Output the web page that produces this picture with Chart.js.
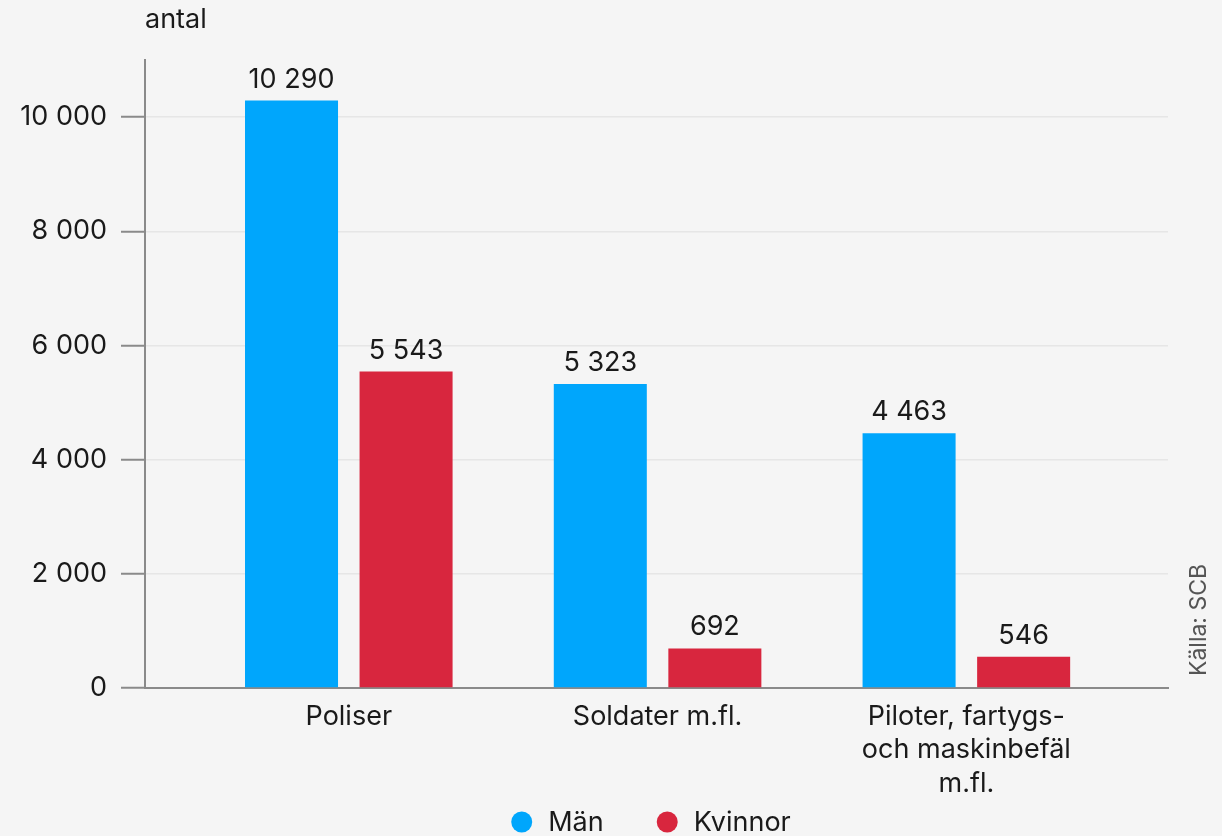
<!DOCTYPE html>
<html lang="sv">
<head>
<meta charset="utf-8">
<script src="https://cdn.jsdelivr.net/npm/chart.js@4"></script>
<style>
  html, body { margin: 0; padding: 0; background: #f5f5f5; }
  #wrap { width: 1222px; height: 836px; }
</style>
</head>
<body>
<div id="wrap"><canvas id="yrkeChart" width="1222" height="836"></canvas></div>
<script>
const categories = [['Poliser'], ['Soldater m.fl.'], ['Piloter, fartygs-', 'och maskinbefäl', 'm.fl.']];
const seriesNames = ['Män', 'Kvinnor'];
const manValues = [10290, 5323, 4463];
const kvinnorValues = [5543, 692, 546];
const yTicks = [0, 2000, 4000, 6000, 8000, 10000];

const textColor = '#1a1a1a';
const fontFam = 'Inter, "Noto Sans", sans-serif';
const fontSize = 27;

function fmt(n) {
  return String(n).replace(/\B(?=(\d{3})+(?!\d))/g, ' ');
}

function toPoints(vals) {
  return vals.map((v, i) => ({ x: i, y: v }));
}

const extrasPlugin = {
  id: 'extras',
  afterDatasetsDraw(chart) {
    const ctx = chart.ctx;
    ctx.save();
    ctx.font = fontSize + 'px ' + fontFam;
    ctx.fillStyle = textColor;
    ctx.textAlign = 'center';
    ctx.textBaseline = 'alphabetic';
    chart.data.datasets.forEach((ds, di) => {
      chart.getDatasetMeta(di).data.forEach((bar, i) => {
        ctx.fillText(fmt(ds.data[i].y), bar.x, bar.y - 13);
      });
    });
    ctx.restore();
  },
  afterDraw(chart) {
    const ctx = chart.ctx;
    ctx.save();
    // unit label
    ctx.font = fontSize + 'px ' + fontFam;
    ctx.fillStyle = textColor;
    ctx.textAlign = 'left';
    ctx.textBaseline = 'middle';
    ctx.fillText('antal', 145, 20);

    // source
    ctx.translate(1199, 620);
    ctx.rotate(-Math.PI / 2);
    ctx.font = '23px ' + fontFam;
    ctx.fillStyle = '#555';
    ctx.textAlign = 'center';
    ctx.fillText('Källa: SCB', 0, 0);
    ctx.restore();

    // legend
    ctx.save();
    ctx.font = fontSize + 'px ' + fontFam;
    ctx.textBaseline = 'middle';
    ctx.textAlign = 'left';
    const r = 10.5, gapText = 16, gapItem = 53;
    const items = chart.data.datasets.map(ds => ({ label: ds.label, color: ds.backgroundColor, w: ctx.measureText(ds.label).width }));
    let total = 0;
    items.forEach((it, i) => { total += 2 * r + gapText + it.w + (i ? gapItem : 0); });
    let x = 651 - total / 2;
    const y = 822;
    items.forEach(it => {
      ctx.fillStyle = it.color;
      ctx.beginPath();
      ctx.arc(x + r, y, r, 0, Math.PI * 2);
      ctx.fill();
      ctx.fillStyle = textColor;
      ctx.fillText(it.label, x + 2 * r + gapText, y + 1);
      x += 2 * r + gapText + it.w + gapItem;
    });
    ctx.restore();
  }
};

document.addEventListener('DOMContentLoaded', () => {
  const ctx = document.getElementById('yrkeChart').getContext('2d');
  new Chart(ctx, {
    type: 'bar',
    data: {
      datasets: [
        { label: seriesNames[0], data: toPoints(manValues), backgroundColor: '#00a6fc' },
        { label: seriesNames[1], data: toPoints(kvinnorValues), backgroundColor: '#d8263e' }
      ]
    },
    options: {
      responsive: false,
      animation: false,
      layout: { padding: { top: 60, right: 54, left: 0, bottom: 0 } },
      datasets: { bar: { categoryPercentage: 0.742, barPercentage: 0.812 } },
      plugins: {
        legend: { display: false },
        tooltip: { enabled: false }
      },
      scales: {
        x: {
          type: 'linear',
          offset: false,
          min: -0.66,
          max: 2.653,
          afterBuildTicks: s => { s.ticks = categories.map((c, i) => ({ value: i })); },
          afterFit: s => { s.height = 148; },
          ticks: {
            callback: v => categories[v],
            font: { family: fontFam, size: fontSize, lineHeight: 1.24 },
            color: textColor,
            padding: 12,
            maxRotation: 0,
            autoSkip: false
          },
          grid: { display: false, drawTicks: false },
          border: { color: '#8a8a8a', width: 2 }
        },
        y: {
          min: 0,
          max: 11000,
          afterBuildTicks: s => { s.ticks = yTicks.map(v => ({ value: v })); },
          afterFit: s => { s.width = 145; },
          ticks: {
            callback: v => fmt(v),
            font: { family: fontFam, size: fontSize },
            color: textColor,
            padding: 14
          },
          grid: { color: '#e6e6e6', lineWidth: 1.5, tickLength: 24, tickColor: '#8a8a8a', tickWidth: 2 },
          border: { color: '#8a8a8a', width: 2 }
        }
      }
    },
    plugins: [extrasPlugin]
  });
});
</script>
</body>
</html>
